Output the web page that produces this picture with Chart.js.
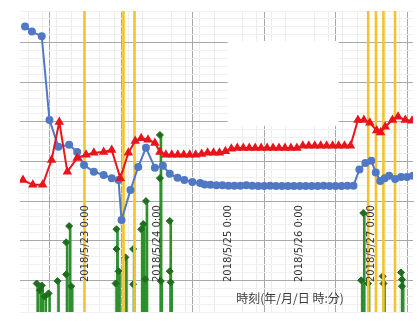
<!DOCTYPE html>
<html>
<head>
<meta charset="utf-8">
<title>Level / rain chart</title>
<script src="https://cdn.jsdelivr.net/npm/chart.js@4.4.0/dist/chart.umd.min.js"></script>
<style>
    body { margin: 0; background: #fff; }
    #wrap { width: 419px; height: 328px; }
</style>
</head>
<body>
<div id="wrap"><canvas id="chart"></canvas></div>
<script>
// all times are hours counted from 2018/5/23 0:00
const blueTime = [-20.3, -18.0, -14.7, -12.1, -9.1, -5.5, -2.8, -0.5, 2.8, 6.1, 8.8, 11.1, 12.1, 15.1, 17.7, 20.3, 23.3, 26.0, 28.3, 30.9, 33.2, 35.9, 38.5,
    40, 42, 44, 46, 48, 50, 52, 54, 56, 58, 60, 62, 64, 66, 68, 70, 72, 74, 76, 78, 80, 82, 84, 86, 88, 90,
    92, 94, 96, 97.5, 99, 100.5, 102, 104, 106, 108, 110];
const blueLevel = [74.1, 72.8, 71.6, 50.5, 43.7, 44.2, 42.4, 39.1, 37.4, 36.6, 35.8, 35.3, 25.2, 32.8, 38.6, 43.5, 38.4, 38.9, 36.9, 35.9, 35.3, 34.8, 34.6,
    34.2, 34.1, 34.0, 34.0, 33.9, 33.9, 33.9, 34.0, 33.9, 33.8, 33.8, 33.9, 33.8, 33.8, 33.8, 33.8, 33.8, 33.8, 33.8, 33.8, 33.9, 33.8, 33.8, 33.8, 33.9, 33.9,
    38.0, 39.6, 40.2, 37.2, 35.1, 35.8, 36.4, 35.6, 36.1, 36.1, 36.4];

const redTime = [-21.0, -17.7, -14.4, -11.4, -8.8, -6.1, -2.8, 0.2, 2.8, 6.1, 8.8, 11.7, 14.4, 16.7, 18.7, 21.0, 23.3, 25.0, 27.0,
    29, 31, 33, 35, 37, 39, 41, 43, 45, 47, 49, 51, 53, 55, 57, 59, 61, 63, 65, 67, 69, 71, 73, 75, 77, 79, 81, 83, 85, 87, 89,
    91.5, 93.5, 95.5, 97.8, 99.1, 100.7, 103.1, 105.0, 107.4, 109.7];
const redLevel = [35.3, 34.1, 34.1, 40.4, 50.0, 37.4, 40.9, 41.7, 42.2, 42.4, 42.9, 35.8, 42.2, 45.2, 45.9, 45.5, 44.7, 42.4, 41.7,
    41.7, 41.7, 41.7, 41.7, 41.7, 41.9, 42.2, 42.2, 42.2, 42.6, 43.2, 43.4, 43.4, 43.4, 43.4, 43.4, 43.4, 43.4, 43.4, 43.4, 43.4, 43.4,
    44.0, 44.0, 44.0, 44.0, 44.0, 44.0, 44.0, 44.0, 44.0,
    50.5, 50.5, 49.8, 47.8, 47.3, 48.8, 50.5, 51.3, 50.5, 50.3];

const rainTime = [-16.4, -15.4, -14.7, -13.7, -12.4, -9.4, -6.5, -5.5, -6.5, -4.8,
    10.4, 10.4, 11.1, 10.1, 13.4, 16.0, 16.0, 18.7, 19.4, 20.3, 20.0, 25.0, 25.0, 25.3, 28.3, 28.3, 28.6,
    93.3, 92.6, 94.9, 99.8, 100.1, 106.0, 106.3, 106.3];
const rainValue = [9.2, 7.5, 8.7, 5.9, 6.7, 9.8, 19.6, 23.7, 11.5, 8.5,
    22.9, 17.9, 12.3, 9.2, 15.8, 17.9, 9.0, 22.9, 24.2, 30.0, 10.3, 46.7, 35.8, 9.8, 25.0, 12.3, 9.5,
    27.0, 10.0, 9.2, 11.0, 9.2, 12.0, 10.2, 8.5];

const eventTime = [0, 13.1, 16.8, 95.3, 97.9, 100.4, 104.3];

const dayTicks = [0, 24, 48, 72, 96];
const dayLabels = ['2018/5/23 0:00', '2018/5/24 0:00', '2018/5/25 0:00', '2018/5/26 0:00', '2018/5/27 0:00'];
const axisTitle = '時刻(年/月/日 時:分)';

const xMin = -22, xMax = 110, yMin = 2, yMax = 78;

function pts(xs, ys) {
    return xs.map((v, i) => ({ x: v, y: ys[i] }));
}

// white box left where the legend sat, plus the axis title
const extras = {
    id: 'extras',
    beforeDatasetsDraw(chart) {
        const { ctx, scales: { x, y } } = chart;
        const l = x.getPixelForValue(47.7), r = x.getPixelForValue(85);
        const t = y.getPixelForValue(70.4), b = y.getPixelForValue(49);
        ctx.save();
        ctx.fillStyle = '#ffffff';
        ctx.fillRect(l, t, r - l, b - t);
        ctx.restore();
    },
    afterDraw(chart) {
        const ctx = chart.ctx;
        ctx.save();
        ctx.font = '12px "Noto Sans CJK JP"';
        ctx.fillStyle = '#3a3a3a';
        ctx.textAlign = 'center';
        ctx.textBaseline = 'middle';
        ctx.fillText(axisTitle, 290, 298);
        ctx.restore();
    }
};

new Chart(document.getElementById('chart'), {
    type: 'scatter',
    data: {
        datasets: [
            {
                type: 'line',
                data: pts(redTime, redLevel),
                borderColor: '#e8151b',
                backgroundColor: '#e8151b',
                borderWidth: 2,
                pointStyle: 'triangle',
                pointRadius: 3.5,
                showLine: true,
                order: 0
            },
            {
                type: 'line',
                data: pts(blueTime, blueLevel),
                borderColor: '#5078c4',
                backgroundColor: '#5078c4',
                borderWidth: 2,
                pointStyle: 'circle',
                pointRadius: 3,
                showLine: true,
                order: 1
            },
            {
                type: 'bar',
                data: eventTime.map(v => ({ x: v, y: yMax })),
                backgroundColor: '#f4c430',
                barThickness: 2,
                order: 2
            },
            {
                type: 'scatter',
                data: pts(rainTime, rainValue),
                backgroundColor: '#1f6e1f',
                borderColor: '#1f6e1f',
                pointStyle: 'rectRot',
                pointRadius: 3.5,
                order: 3
            },
            {
                type: 'bar',
                data: pts(rainTime, rainValue),
                backgroundColor: '#2f8f2f',
                barThickness: 2,
                order: 4
            }
        ]
    },
    options: {
        responsive: true,
        maintainAspectRatio: false,
        animation: false,
        layout: { padding: { left: 20, right: 0, top: 11, bottom: 16 } },
        plugins: {
            legend: { display: false },
            tooltip: { enabled: false }
        },
        scales: {
            x: {
                type: 'linear',
                axis: 'x',
                min: xMin,
                max: xMax,
                offset: false,
                position: { y: 30 },
                grid: { color: '#a8a8a8', drawTicks: false },
                border: { color: '#a8a8a8' },
                ticks: {
                    stepSize: 24,
                    includeBounds: false,
                    autoSkip: false,
                    minRotation: 90,
                    maxRotation: 90,
                    padding: 4,
                    z: 1,
                    color: '#333333',
                    font: { family: 'DejaVu Sans', size: 10 },
                    callback: v => {
                        const i = dayTicks.indexOf(v);
                        return i < 0 ? '' : dayLabels[i];
                    }
                }
            },
            xMinor: {
                type: 'linear',
                axis: 'x',
                min: xMin,
                max: xMax,
                offset: false,
                position: 'bottom',
                grid: {
                    drawTicks: false,
                    color: c => (Math.abs(c.tick.value % 24) < 0.01 ? 'rgba(0,0,0,0)' : '#ececec')
                },
                border: { display: false },
                ticks: { display: false, stepSize: 4.8, includeBounds: false }
            },
            y: {
                type: 'linear',
                axis: 'y',
                min: yMin,
                max: yMax,
                position: 'left',
                grid: { color: '#a8a8a8', drawTicks: false },
                border: { display: false },
                ticks: { display: false, stepSize: 10, includeBounds: false }
            },
            yMinor: {
                type: 'linear',
                axis: 'y',
                min: yMin,
                max: yMax,
                position: 'left',
                grid: {
                    drawTicks: false,
                    color: c => (Math.abs(c.tick.value % 10) < 0.01 ? 'rgba(0,0,0,0)' : '#f0f0f0')
                },
                border: { display: false },
                ticks: { display: false, stepSize: 2, includeBounds: false }
            }
        }
    },
    plugins: [extras]
});
</script>
</body>
</html>
